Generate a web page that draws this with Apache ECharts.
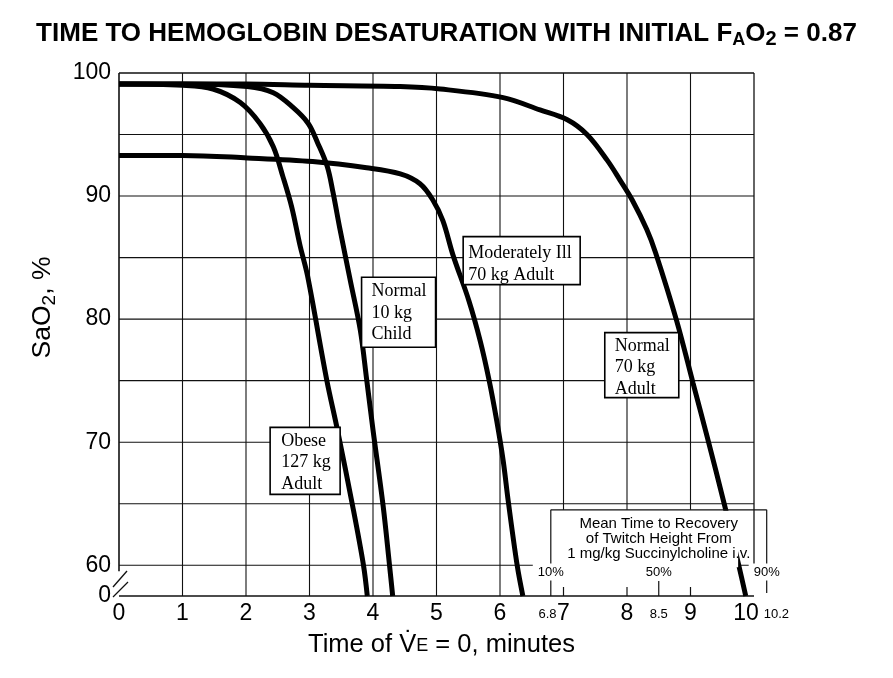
<!DOCTYPE html>
<html><head><meta charset="utf-8">
<script src="https://cdn.jsdelivr.net/npm/echarts@6/dist/echarts.min.js"></script>
<style>html,body{margin:0;padding:0;background:#fff}#c{width:893px;height:678px}</style>
</head><body><div id="c"></div>
<script>
// ---------------- data ----------------
const xTickValues = [0,1,2,3,4,5,6,7,8,9,10];
const yTickLabels = [60,70,80,90,100];
// [time (min), SaO2 (%)] ; last point = reaches the (broken) axis bottom
const obese127 = [[0,99.1],[1.0,99.0],[1.48,98.7],[1.91,97.6],[2.22,95.9],[2.43,94.0],[2.58,91.6],[2.72,89.1],[2.85,86.0],[2.97,83.5],[3.27,75.1],[3.44,71.0],[3.68,64.8],[3.85,60],[3.91,0]];
const child10 = [[0,99.1],[1.0,99.1],[2.02,98.9],[2.43,98.4],[2.74,97.2],[2.98,95.9],[3.13,94.3],[3.28,92.4],[3.37,90.3],[3.48,87.3],[3.64,83.2],[3.80,79.1],[3.90,75.1],[4.00,71.0],[4.16,64.8],[4.26,60],[4.31,0]];
const ill70 = [[0,93.3],[1.0,93.3],[2.02,93.1],[3.05,92.8],[3.9,92.3],[4.43,91.8],[4.74,91.0],[4.94,89.7],[5.1,88.0],[5.26,85.2],[5.51,81.5],[5.69,78.2],[5.83,75.0],[5.95,71.7],[6.05,68.5],[6.13,65.2],[6.27,60],[6.36,0]];
const normal70 = [[0,99.1],[2,99.1],[3,99.0],[4.43,98.9],[5.06,98.7],[6.05,98.0],[6.63,97.0],[7.06,96.2],[7.37,95.0],[7.69,92.9],[7.89,91.3],[8.08,89.7],[8.31,87.3],[8.45,85.4],[8.78,79.9],[9.04,74.8],[9.26,70.5],[9.54,64.8],[9.76,60],[9.87,0]];
const curveNames = ['Obese 127 kg Adult','Normal 10 kg Child','Moderately Ill 70 kg Adult','Normal 70 kg Adult'];
const labelTexts = [['Obese','127 kg','Adult'],['Normal','10 kg','Child'],['Moderately Ill','70 kg Adult'],['Normal','70 kg','Adult']];
const recoveryText = ['Mean Time to Recovery','of Twitch Height From','1 mg/kg Succinylcholine i.v.'];
const recoveryTimes = [6.8, 8.5, 10.2];
const recoveryPct = ['10%','50%','90%'];
const recoveryTimeLabels = ['6.8','8.5','10.2'];

// ---------------- layout / style ----------------
const Y_BOT = 57.5, BREAK = 60;          // 60..0 drawn compressed below the break
function Y(s){ return s >= BREAK ? s : Y_BOT + s*(BREAK - Y_BOT)/BREAK; }
const BOX_TOP = 64.5, MASK_RIGHT = 9.75;
const labelLayout = [
  {t:2.38, s:71.2, w:70,  h:67, padL:11, padT:3},
  {t:3.82, s:83.4, w:74,  h:70, padL:10, padT:3.5},
  {t:5.42, s:86.7, w:117, h:48, padL:5,  padT:6},
  {t:7.65, s:78.9, w:74,  h:65, padL:10, padT:2.5}
];
const SANS = '"Liberation Sans", Arial, Helvetica, sans-serif';
const SERIF = '"Liberation Serif", "Times New Roman", serif';
const INK = '#000';

function frameItem(params, api){
  const c = (x,s) => api.coord([x, Y(s)]);
  const ch = [];
  const line = (p,q,w) => ch.push({type:'line', shape:{x1:p[0],y1:p[1],x2:q[0],y2:q[1]}, style:{stroke:'#111', lineWidth:w||1.1}});
  for (let s = 65; s <= 95; s += 5) line(c(0,s), c(10,s));
  line(c(0,60), c(10,60));
  line(c(0,100), c(10,100), 1.6);
  xTickValues.forEach(t => {
    if (t === 0 || t === 10) return;
    if (t >= 7) line(c(t,BOX_TOP), c(t,100));
    else line(c(t,0), c(t,100));
  });
  line(c(10,60), c(10,100), 1.3);
  const a = c(0,60);
  line(c(0,100), [a[0], a[1]+6], 1.6);
  line(c(0,0), c(10,0), 1.6);
  const o = c(0,0);
  line([o[0]-6, o[1]-9], [o[0]+8, o[1]-25], 1.3);
  line([o[0]-6, o[1]+1], [o[0]+9, o[1]-14], 1.3);
  return {type:'group', children:ch};
}

function boxItem(params, api){
  const c = (x,s) => api.coord([x, Y(s)]);
  const ch = [];
  const line = (p,q,w) => ch.push({type:'line', shape:{x1:p[0],y1:p[1],x2:q[0],y2:q[1]}, style:{stroke:'#111', lineWidth:w||1.2}});
  const tl = c(recoveryTimes[0], BOX_TOP), mr = c(MASK_RIGHT, 60);
  ch.push({type:'rect', shape:{x:tl[0]+1, y:tl[1]+1, width:mr[0]-tl[0]-1, height:mr[1]+2-tl[1]-1}, style:{fill:'#fff'}});
  const bot = c(0,0)[1];
  line(c(recoveryTimes[0],BOX_TOP), c(recoveryTimes[2],BOX_TOP));
  line(c(recoveryTimes[0],BOX_TOP), c(recoveryTimes[0],0));
  const r = c(recoveryTimes[2],BOX_TOP);
  line(r, [r[0], bot-3]);
  [7,8,9].forEach(t => { const p = c(t,0); line(p, [p[0], p[1]-9]); });
  const m = c(recoveryTimes[1],0); line(m, [m[0], m[1]-15]);
  const ctr = c(recoveryTimes[1], BOX_TOP);
  ch.push({type:'text', style:{text:recoveryText.join('\n'), x:ctr[0], y:ctr[1]+7, align:'center', verticalAlign:'top', lineHeight:15, fontSize:15, fontFamily:SANS, fill:INK}});
  recoveryTimes.forEach((t,i) => {
    const p = c(t,0);
    ch.push({type:'text', style:{text:recoveryPct[i], x:p[0], y:p[1]-24, align:'center', verticalAlign:'middle', fontSize:13, fontFamily:SANS, fill:INK, backgroundColor:'#fff', padding:[2,5]}});
  });
  const p7 = c(7,0), p85 = c(recoveryTimes[1],0), p102 = c(recoveryTimes[2],0);
  const ly = bot + 18;
  ch.push({type:'text', style:{text:recoveryTimeLabels[0], x:p7[0]-7, y:ly, align:'right', verticalAlign:'middle', fontSize:13, fontFamily:SANS, fill:INK}});
  ch.push({type:'text', style:{text:recoveryTimeLabels[1], x:p85[0], y:ly, align:'center', verticalAlign:'middle', fontSize:13, fontFamily:SANS, fill:INK}});
  ch.push({type:'text', style:{text:recoveryTimeLabels[2], x:p102[0]-3, y:ly, align:'left', verticalAlign:'middle', fontSize:13, fontFamily:SANS, fill:INK}});
  return {type:'group', children:ch};
}

function labelItem(params, api){
  const i = api.value(2);
  const L = labelLayout[i];
  const p = api.coord([api.value(0), api.value(1)]);
  return {type:'group', children:[
    {type:'rect', shape:{x:p[0], y:p[1], width:L.w, height:L.h}, style:{fill:'#fff', stroke:INK, lineWidth:1.6}},
    {type:'text', style:{text:labelTexts[i].join('\n'), x:p[0]+L.padL, y:p[1]+L.padT, align:'left', verticalAlign:'top', lineHeight:21.5, fontSize:18, fontFamily:SERIF, fill:INK}}
  ]};
}

const curves = [obese127, child10, ill70, normal70];
const lineSeries = curves.map((d,i) => ({
  type:'line', name:curveNames[i], data:d.map(([t,s]) => [t, Y(s)]),
  symbol:'none', smooth:0.35, z:3,
  lineStyle:{color:INK, width:5}, silent:true
}));

const chart = echarts.init(document.getElementById('c'));
chart.setOption({
  animation:false,
  backgroundColor:'#fff',
  title:{
    text:'{m|TIME TO HEMOGLOBIN DESATURATION WITH INITIAL F}{s|A}{m|O}{t|2}{m| = 0.87}',
    left:'center', top:14,
    textStyle:{rich:{
      m:{fontSize:26, fontWeight:'bold', fontFamily:SANS, color:INK, lineHeight:30, verticalAlign:'middle'},
      s:{fontSize:18, fontWeight:'bold', fontFamily:SANS, color:INK, lineHeight:21, verticalAlign:'bottom'},
      t:{fontSize:20, fontWeight:'bold', fontFamily:SANS, color:INK, lineHeight:12.5, verticalAlign:'bottom'}
    }}
  },
  grid:{left:119, right:139, top:73, bottom:82, containLabel:false},
  xAxis:{
    type:'value', min:0, max:10, interval:1,
    axisLine:{show:false}, axisTick:{show:false}, splitLine:{show:false},
    axisLabel:{margin:6, color:INK,
      formatter:v => v === 10 ? '{ten|10}' : '{n|' + v + '}',
      rich:{n:{fontSize:23, fontFamily:SANS, color:INK}, ten:{fontSize:23, fontFamily:SANS, color:INK, padding:[0,16,0,0]}}},
    name:'{a|Time of V\u0307}{e|E}{a| = 0, minutes}', nameLocation:'middle', nameGap:33,
    nameTextStyle:{padding:[0,0,0,10], rich:{
      a:{fontSize:25.5, fontFamily:SANS, color:INK, lineHeight:31, verticalAlign:'middle'},
      e:{fontSize:18, fontFamily:SANS, color:INK, lineHeight:31, verticalAlign:'middle', padding:[4,0,0,0]}
    }}
  },
  yAxis:{
    type:'value', min:Y_BOT, max:100, interval:2.5,
    axisLine:{show:false}, axisTick:{show:false}, splitLine:{show:false},
    axisLabel:{margin:8, fontSize:23, fontFamily:SANS, color:INK,
      formatter:v => Math.abs(v - Y_BOT) < 1e-6 ? '0' : (yTickLabels.some(k => Math.abs(k - v) < 1e-6) ? String(Math.round(v)) : '')},
    name:'{a|SaO}{s|2}{a|, %}', nameLocation:'middle', nameRotate:90, nameGap:60,
    nameTextStyle:{padding:[0,0,0,54], rich:{
      a:{fontSize:26.5, fontFamily:SANS, color:INK, lineHeight:32, verticalAlign:'middle'},
      s:{fontSize:19, fontFamily:SANS, color:INK, lineHeight:15, verticalAlign:'bottom'}
    }}
  },
  series:[
    {type:'custom', name:'frame', renderItem:frameItem, data:[[0,Y_BOT]], z:1, silent:true},
    ...lineSeries,
    {type:'custom', name:'recovery', renderItem:boxItem, data:[[0,Y_BOT]], z:5, silent:true},
    {type:'custom', name:'labels', renderItem:labelItem, data:labelLayout.map((L,i) => [L.t, Y(L.s), i]), z:6, silent:true}
  ]
});
</script></body></html>
